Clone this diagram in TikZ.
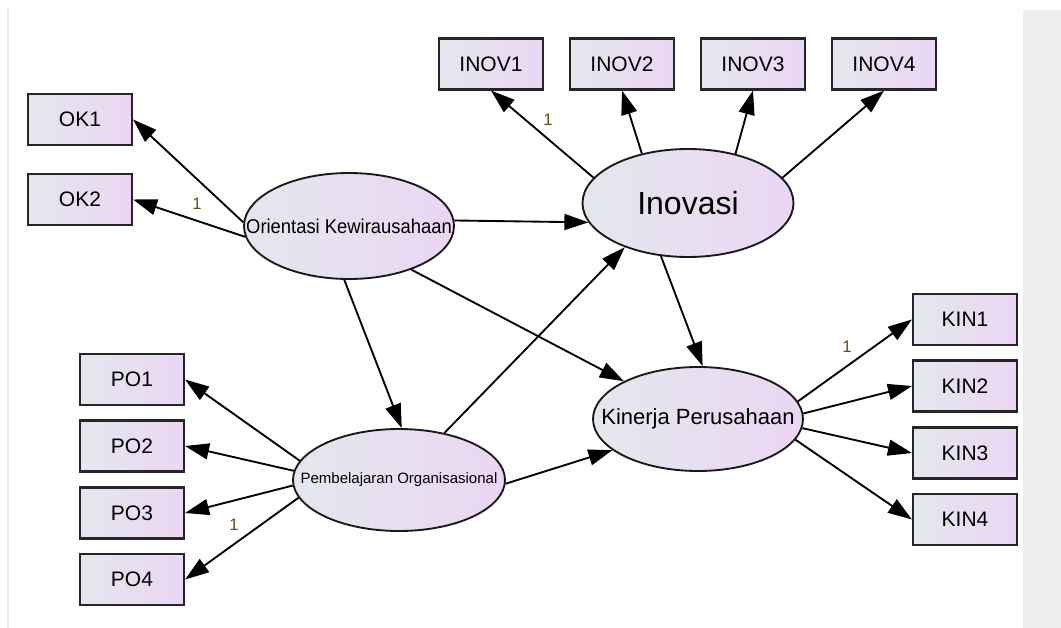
\documentclass[tikz,border=0pt]{standalone}
\usepackage{fontspec}
\usepackage{graphicx}
\setmainfont{Liberation Sans}
\usetikzlibrary{arrows.meta,shapes.geometric}
\definecolor{gl}{RGB}{228,231,238}
\definecolor{gr}{RGB}{235,214,243}
\definecolor{lab}{RGB}{105,75,15}
\definecolor{panel}{RGB}{238,238,238}
\begin{document}
\begin{tikzpicture}[x=0.75pt,y=-0.75pt,
  obs/.style={draw=black!85,line width=1.6pt,left color=gl,right color=gr,
    minimum width=78pt,minimum height=38.25pt,inner sep=0pt,
    font=\fontsize{15.75}{18}\selectfont},
  lat/.style={ellipse,draw=black!90,line width=1.4pt,left color=gl,right color=gr,inner sep=0pt},
  arr/.style={line width=1.4pt,-{Triangle[length=18pt,width=12pt]}},
  one/.style={text=lab,font=\fontsize{12.5}{14}\selectfont,inner sep=0pt}]
\useasboundingbox (0,0) rectangle (1061,628);
\fill[white] (0,0) rectangle (1061,628);
\fill[panel] (1023,10) rectangle (1061,628);
\draw[panel,line width=1pt] (8,8) -- (8,628);

% observed variables
\node[obs] (ok1) at (80,119.5) {OK1};
\node[obs] (ok2) at (80,199.5) {OK2};
\node[obs] (inov1) at (491,64) {INOV1};
\node[obs] (inov2) at (622,64) {INOV2};
\node[obs] (inov3) at (753,64) {INOV3};
\node[obs] (inov4) at (884,64) {INOV4};
\node[obs] (po1) at (132,379.5) {PO1};
\node[obs] (po2) at (132,446) {PO2};
\node[obs] (po3) at (132,513) {PO3};
\node[obs] (po4) at (132,579.5) {PO4};
\node[obs] (kin1) at (965,319.5) {KIN1};
\node[obs] (kin2) at (965,386) {KIN2};
\node[obs] (kin3) at (965,453) {KIN3};
\node[obs] (kin4) at (965,519.5) {KIN4};

% latent variables
\node[lat,minimum width=157.5pt,minimum height=79.5pt] (ok) at (349,226)
  {\makebox[0pt]{\fontsize{15}{18}\selectfont\scalebox{0.92}[1]{Orientasi Kewirausahaan}}};
\node[lat,minimum width=158.25pt,minimum height=81pt] (inov) at (688,203)
  {\makebox[0pt]{\fontsize{24}{28}\selectfont Inovasi}};
\node[lat,minimum width=159pt,minimum height=76.5pt] (po) at (399,480)
  {\makebox[0pt]{\fontsize{11.25}{13}\selectfont Pembelajaran Organisasional}};
\node[lat,minimum width=157.5pt,minimum height=78pt] (kin) at (698,419)
  {\makebox[0pt]{\fontsize{16.5}{19}\selectfont Kinerja Perusahaan}};

% measurement paths
\draw[arr] (ok.178.4) -- (ok1.east);
\draw[arr] (ok.186.5) -- (ok2.east);
\draw[arr] (inov.165.7) -- (inov1.south);
\draw[arr] (inov.133.9) -- (inov2.south);
\draw[arr] (inov.46.7) -- (inov3.south);
\draw[arr] (inov.15) -- (inov4.south);
\draw[arr] (po.169.3) -- (po1.east);
\draw[arr] (po.175.7) -- (po2.east);
\draw[arr] (po.183.2) -- (po3.east);
\draw[arr] (po.190.7) -- (po4.east);
\draw[arr] (kin.10.7) -- (kin1.west);
\draw[arr] (kin.3.7) -- (kin2.west);
\draw[arr] (kin.355.7) -- (kin3.west);
\draw[arr] (kin.348.8) -- (kin4.west);

% structural paths
\draw[arr] (ok.3) -- (inov.191.5);
\draw[arr] (ok.265) -- (po.87);
\draw[arr] (ok.325.7) -- (kin.153.7);
\draw[arr] (po.46.8) -- (inov.215.9);
\draw[arr] (inov.243) -- (kin.85);
\draw[arr] (po.358.4) -- (kin.200.6);

% fixed loadings
\node[one] (l1) at (197,204) {1};
\node[one] (l2) at (548,120) {1};
\node[one] (l3) at (234,525) {1};
\node[one] (l4) at (847,347) {1};
\end{tikzpicture}
\end{document}
